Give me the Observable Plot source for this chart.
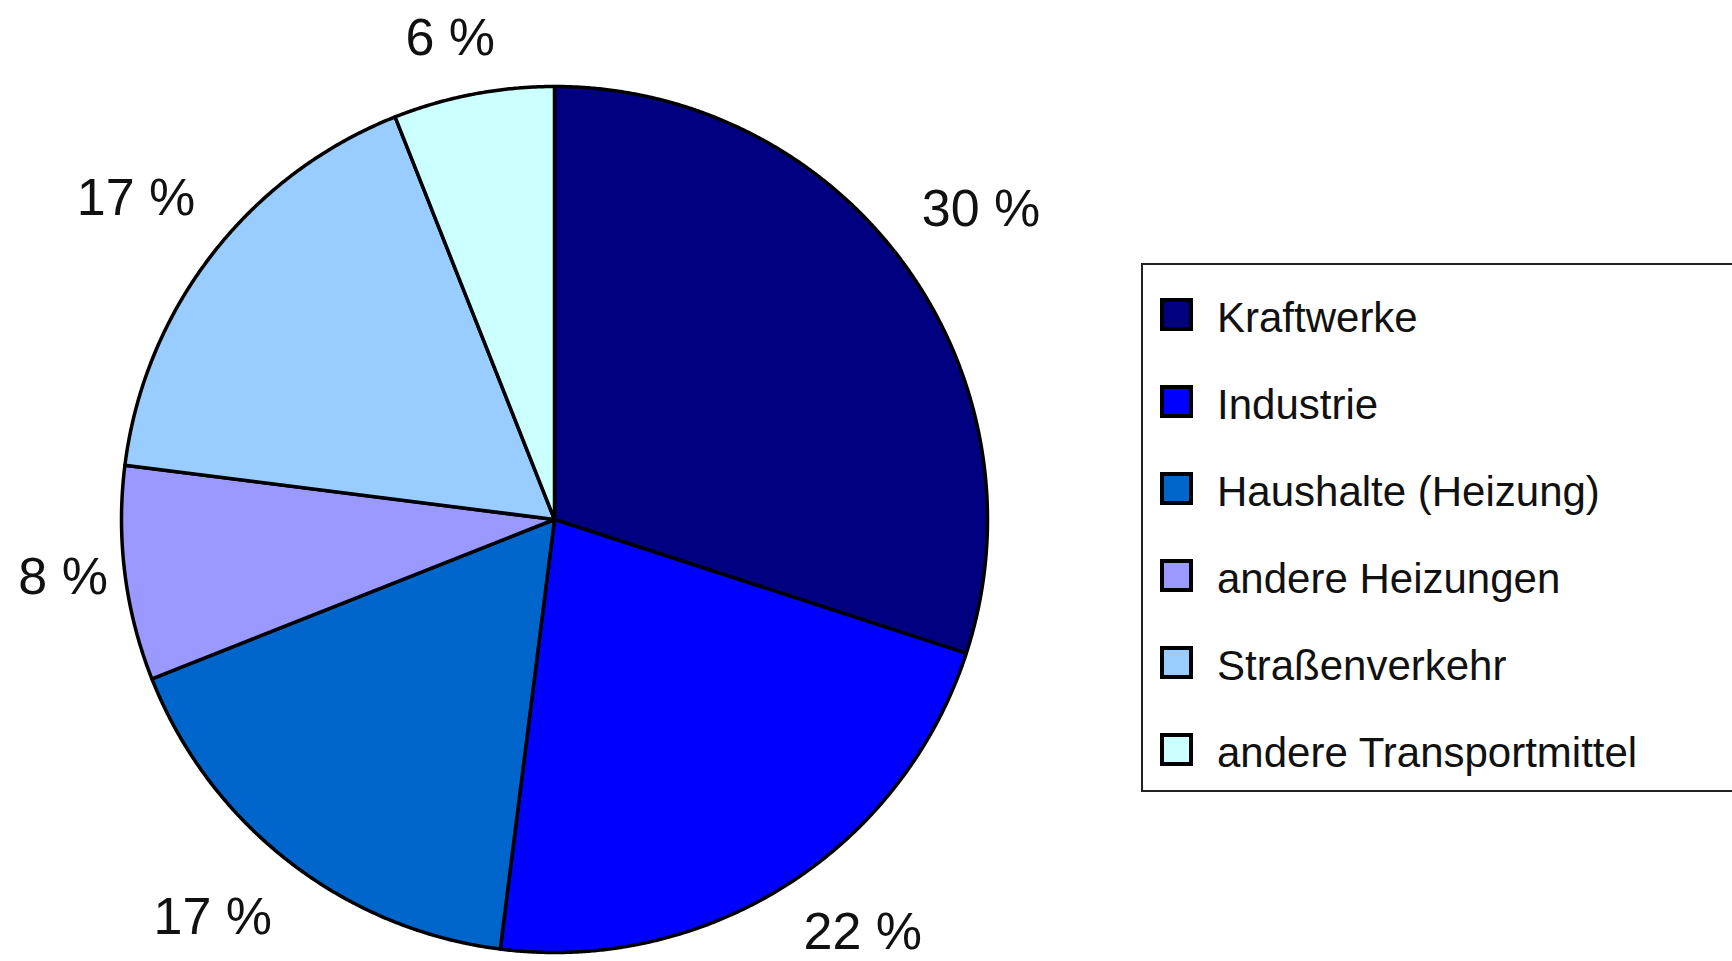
<!DOCTYPE html>
<html>
<head>
<meta charset="utf-8">
<script src="https://cdn.jsdelivr.net/npm/d3@7"></script>
<script src="https://cdn.jsdelivr.net/npm/@observablehq/plot@0.6"></script>
<style>
  html, body { margin: 0; padding: 0; background: #fff; overflow: hidden; }
  #wrap { position: relative; width: 1732px; height: 961px; }
  #legend {
    position: absolute; left: 1141px; top: 263px; width: 620px; height: 529px;
    border: 2px solid #222; box-sizing: border-box; background: #fff;
    font-family: "Liberation Sans", Arial, sans-serif; font-size: 42px; color: #111;
    padding-top: 6px;
  }
  .item { height: 87px; display: flex; align-items: center; }
  .item span { position: relative; top: 3px; }
  .sw { width: 33px; height: 33px; box-sizing: border-box; border: 4px solid #000; margin-left: 17px; margin-right: 24px; }
</style>
</head>
<body>
<div id="wrap"></div>
<script>
// ---- data ----
const categories = ["Kraftwerke", "Industrie", "Haushalte (Heizung)", "andere Heizungen", "Straßenverkehr", "andere Transportmittel"];
const shares = [30, 22, 17, 8, 17, 6];
const colors = ["#000080", "#0000FF", "#0066CC", "#9999FF", "#99CCFF", "#CCFFFF"];
const labels = ["30 %", "22 %", "17 %", "8 %", "17 %", "6 %"];

// ---- layout ----
const W = 1732, H = 961;
const cx = 554, cy = 519, R = 433;

const pie = d3.pie().sort(null).value(d => d)(shares);

// polygon points of each slice (angle clockwise from top)
const pts = [];
pie.forEach((p, i) => {
  const cat = categories[i];
  pts.push({cat, x: 0, y: 0});
  const n = Math.max(2, Math.ceil((p.endAngle - p.startAngle) / (Math.PI / 720)));
  for (let k = 0; k <= n; k++) {
    const a = p.startAngle + (p.endAngle - p.startAngle) * k / n;
    pts.push({cat, x: Math.sin(a), y: Math.cos(a)});
  }
  pts.push({cat, x: 0, y: 0});
});

// label positions: text box placed just outside the rim point at the middle angle
const fontSize = 52;
const ctx = document.createElement("canvas").getContext("2d");
ctx.font = `${fontSize}px "Liberation Sans"`;
const maxCenterY = H - 1 - fontSize * (0.32 + 0.215); // keep the text box inside the SVG
const labelData = pie.map((p, i) => {
  const a = (p.startAngle + p.endAngle) / 2;
  const s = Math.sin(a), c = Math.cos(a);
  const w = ctx.measureText(labels[i]).width;
  const ox = Math.sign(s) * Math.min(1, Math.abs(s) * 2) * (w / 2 + 17);
  const oy = Math.sign(c) * Math.min(1, Math.max(0, Math.abs(c) - 0.1) * 2.5) * 56;
  let py = cy - (c * R + oy);                 // pixel y of label centre
  py = Math.min(py, maxCenterY);
  return {label: labels[i], x: s + ox / R, y: (cy - py) / R};
});

const chart = Plot.plot({
  width: W, height: H,
  margin: 0,
  x: {domain: [-1, 1], range: [cx - R, cx + R], axis: null},
  y: {domain: [-1, 1], range: [cy + R, cy - R], axis: null},
  color: {domain: categories, range: colors},
  style: {fontFamily: "'Liberation Sans', Arial, sans-serif", background: "#fff"},
  marks: [
    Plot.line(pts, {x: "x", y: "y", z: "cat", fill: "cat", stroke: "#000", strokeWidth: 3.5, strokeLinejoin: "round", curve: "linear"}),
    Plot.text(labelData, {x: "x", y: "y", text: "label", fontSize: fontSize, fill: "#111", textAnchor: "middle", lineAnchor: "middle"})
  ]
});

const wrap = document.getElementById("wrap");
wrap.appendChild(chart);

// legend (HTML, positioned over the right side)
const legend = d3.select(wrap).append("div").attr("id", "legend");
const items = legend.selectAll(".item").data(categories).join("div").attr("class", "item");
items.append("div").attr("class", "sw").style("background", (d, i) => colors[i]);
items.append("span").text(d => d);
</script>
</body>
</html>
